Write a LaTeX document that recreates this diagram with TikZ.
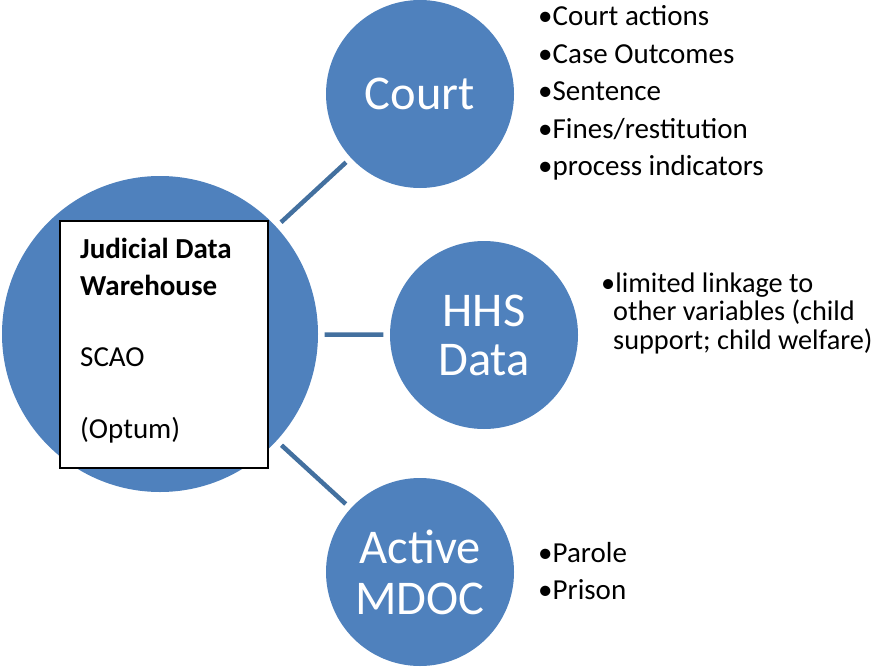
\documentclass[tikz,border=0pt]{standalone}
\usepackage{fontspec}
\setmainfont{Carlito}
\definecolor{blobfill}{HTML}{4F81BD}
\definecolor{linkline}{HTML}{43709F}
\begin{document}
\begin{tikzpicture}[x=1pt,y=-1pt,
  blob/.style={circle,fill=blobfill,inner sep=0pt,text=white,align=center},
  link/.style={draw=linkline,line width=4.5pt,shorten >=6.5pt,shorten <=6.5pt},
  listtxt/.style={inner sep=0pt,anchor=west,align=left}]
\useasboundingbox (0,0) rectangle (882,666);
\node[blob,minimum size=316pt] (jdw) at (160,334) {};
\node[blob,minimum size=188pt,font=\fontsize{48.5}{50}\selectfont] (court) at (420,94) {Court};
\node[blob,minimum size=188pt,font=\fontsize{48.5}{49}\selectfont] (hhs) at (484,335) {HHS\\Data};
\node[blob,minimum size=188pt,font=\fontsize{48.5}{51}\selectfont] (mdoc) at (420,572) {Active\\MDOC};
\node[draw=black,fill=white,line width=1.8pt,minimum width=208pt,minimum height=247pt,inner sep=0pt] (box) at (164,344.5) {};
\node[inner sep=0pt,anchor=north west,align=left,font=\fontsize{29}{36.5}\selectfont] (boxtxt) at (80,238)
  {\textbf{Judicial Data}\\\textbf{Warehouse}\\[35pt]SCAO\\[35pt](Optum)};
\draw[link] (jdw) -- (court);
\draw[link] (jdw) -- (hhs);
\draw[link] (jdw) -- (mdoc);
\node[listtxt,font=\fontsize{29}{37.5}\selectfont] (courtlist) at (538,93)
  {•Court actions\\•Case Outcomes\\•Sentence\\•Fines/restitution\\•process indicators};
\node[listtxt,font=\fontsize{28.3}{28.5}\selectfont] (hhslist) at (601,313)
  {•limited linkage to\\\hspace{12pt}other variables (child\\\hspace{12pt}support; child welfare)};
\node[listtxt,font=\fontsize{29}{37.5}\selectfont] (mdoclist) at (538,571)
  {•Parole\\•Prison};
\end{tikzpicture}
\end{document}
